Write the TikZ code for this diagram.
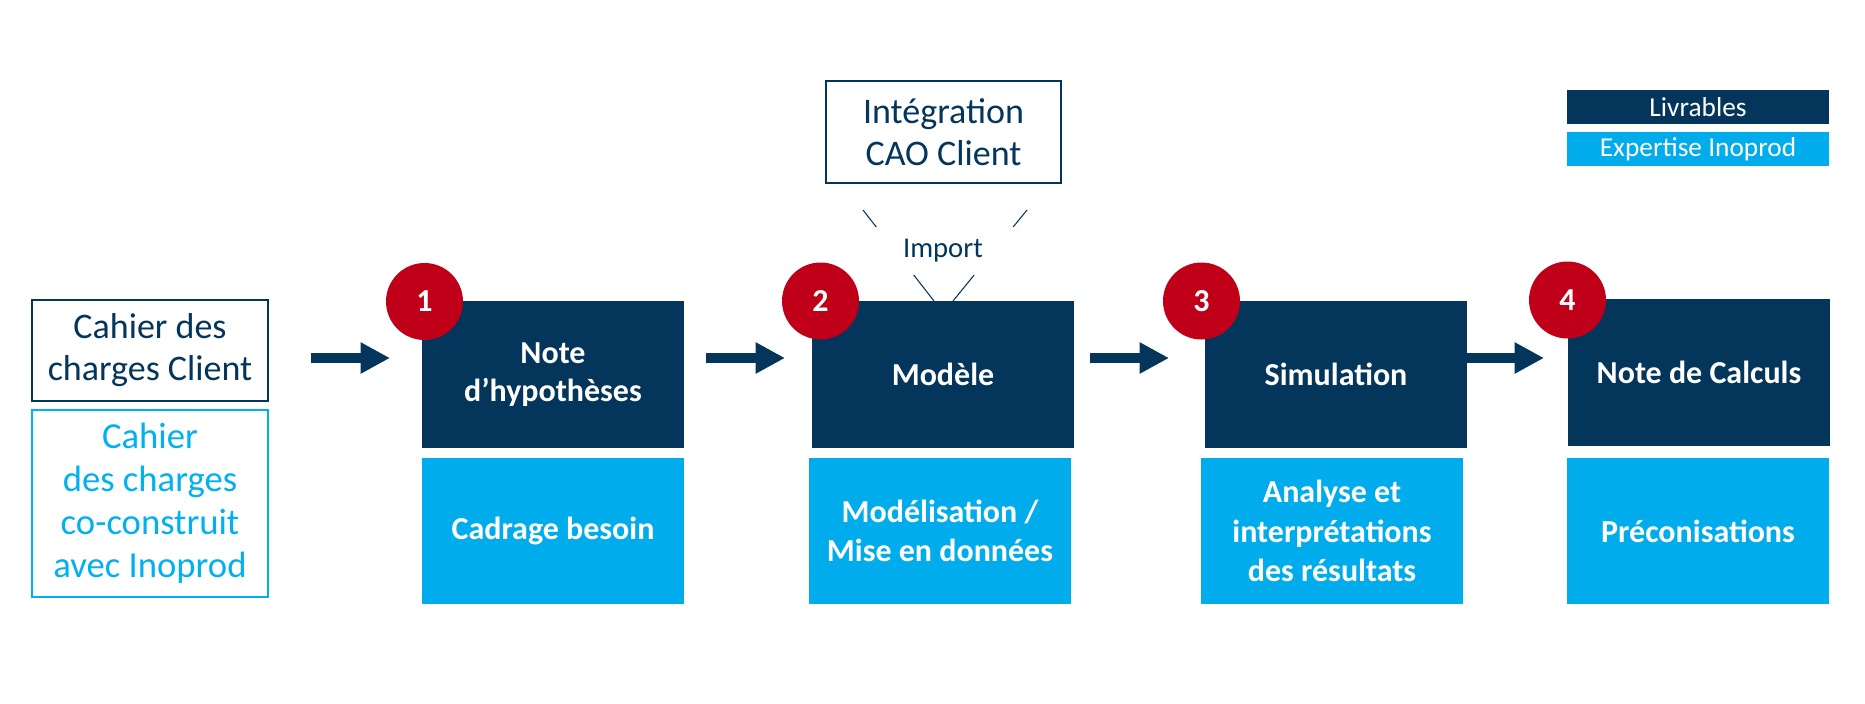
\documentclass[tikz,border=0pt]{standalone}
\usepackage{fontspec}
\setmainfont{Carlito}
\usetikzlibrary{arrows.meta}
\definecolor{navy}{RGB}{4,53,91}
\definecolor{sky}{RGB}{0,172,236}
\definecolor{skytext}{RGB}{0,176,240}
\definecolor{numred}{RGB}{192,0,24}
\tikzset{
  darkbox/.style={rectangle, fill=navy, text=white, inner sep=0pt, align=center,
    minimum width=196.5pt, minimum height=110.25pt,
    font=\bfseries\fontsize{24}{28.5}\selectfont},
  lightbox/.style={rectangle, fill=sky, text=white, inner sep=0pt, align=center,
    minimum width=196.5pt, minimum height=109.5pt,
    font=\bfseries\fontsize{24}{29.4}\selectfont},
  numdisc/.style={circle, fill=numred, text=white, inner sep=0pt, minimum size=57.75pt,
    font=\bfseries\fontsize{24}{24}\selectfont},
  arr/.style={draw=navy, line width=7.5pt, -{Triangle[length=22pt, width=22pt]}},
  thin/.style={draw=navy, line width=0.8pt},
  legend/.style={rectangle, text=white, inner sep=0pt, minimum width=196.5pt, minimum height=25.5pt,
    font=\fontsize{20.5}{22}\selectfont}
}
\begin{document}
\begin{tikzpicture}[x=0.75pt,y=-0.75pt]
\useasboundingbox (0,0) rectangle (1865,703);

% left client boxes
\node[rectangle, draw=navy, line width=1.2pt, text=navy, align=center, inner sep=0pt,
  minimum width=177pt, minimum height=75.75pt, font=\fontsize{27}{31.5}\selectfont]
  (cl) at (150,350.5) {Cahier des\\charges Client};
\node[rectangle, draw=skytext, line width=1pt, text=skytext, align=center, inner sep=0pt,
  minimum width=177pt, minimum height=140.25pt, font=\fontsize{27.5}{32.25}\selectfont]
  (co) at (150,503.5) {Cahier\\des charges\\co-construit\\avec Inoprod};

% main boxes
\node[darkbox] (b1) at (553,374.5) {Note\\d’hypothèses};
\node[darkbox] (b2) at (943,374.5) {Modèle};
\node[darkbox] (b3) at (1336,374.5) {Simulation};
\node[darkbox] (b4) at (1699,372) {Note de Calculs};

\node[lightbox] (l1) at (553,531) {Cadrage besoin};
\node[lightbox] (l2) at (940,531) {Modélisation /\\Mise en données};
\node[lightbox] (l3) at (1332,531) {Analyse et\\interprétations\\des résultats};
\node[lightbox] (l4) at (1698,531) {Préconisations};

% number discs
\node[numdisc] (n1) at (424.5,301.5) {1};
\node[numdisc] (n2) at (820.5,301) {2};
\node[numdisc] (n3) at (1201.5,301) {3};
\node[numdisc] (n4) at (1567.5,300) {4};

% arrows
\coordinate (a1s) at (311,358); \coordinate (a1e) at (390,358);
\coordinate (a2s) at (706,358); \coordinate (a2e) at (785,358);
\coordinate (a3s) at (1090,358); \coordinate (a3e) at (1169,358);
\coordinate (a4s) at (1466,358); \coordinate (a4e) at (1544,358);
\draw[arr] (a1s) -- (a1e);
\draw[arr] (a2s) -- (a2e);
\draw[arr] (a3s) -- (a3e);
\draw[arr] (a4s) -- (a4e);

% CAO integration
\node[rectangle, draw=navy, line width=1pt, text=navy, align=center, inner sep=0pt,
  minimum width=176.25pt, minimum height=76.5pt, font=\fontsize{27}{31.5}\selectfont]
  (cao) at (943.5,132) {Intégration\\CAO Client};
\coordinate (il) at (863,210); \coordinate (ir) at (1027,210);
\coordinate (ol) at (934,301); \coordinate (or) at (953,301);
\draw[thin] (il) -- (ol);
\draw[thin] (ir) -- (or);
\node[rectangle, fill=white, text=navy, inner sep=0pt, minimum width=112pt, minimum height=36pt,
  font=\fontsize{21.5}{24}\selectfont] (imp) at (943,251) {Import};

% legend
\node[legend, fill=navy] (lv) at (1698,107) {Livrables};
\node[legend, fill=sky] (le) at (1698,149) {Expertise Inoprod};
\end{tikzpicture}
\end{document}
